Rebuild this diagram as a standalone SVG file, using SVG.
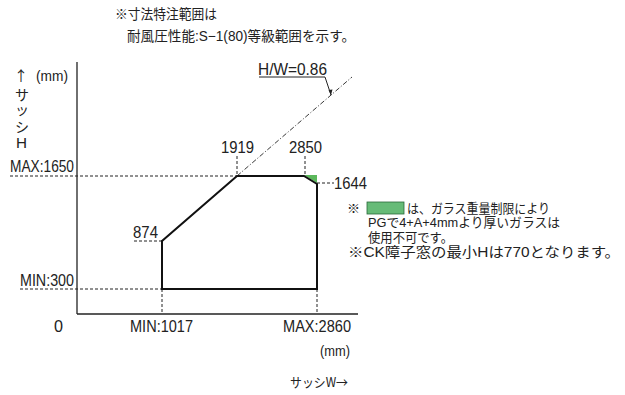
<svg xmlns="http://www.w3.org/2000/svg" width="625" height="395" viewBox="0 0 625 395">
<style>
text{font-family:"Liberation Sans","Noto Sans CJK JP",sans-serif;fill:#222;font-size:17px}
.j{font-size:14px}
.s{font-size:13px}
.ar{font-family:"Noto Sans CJK JP",sans-serif}
.ax{stroke:#222;stroke-width:1.3;fill:none}
.dash{stroke:#222;stroke-width:1;stroke-dasharray:3,2;fill:none}
.dd{stroke:#222;stroke-width:0.9;stroke-dasharray:5,2,1,2;fill:none}
.poly{stroke:#111;stroke-width:2;fill:none;stroke-linejoin:miter}
.thin{stroke:#222;stroke-width:1;fill:none}
</style>
<rect width="625" height="395" fill="#fff"/>
<g id="notes-top">
<text x="115" y="19" class="j" textLength="102" lengthAdjust="spacingAndGlyphs">※寸法特注範囲は</text>
<text x="127" y="41" class="j" textLength="228" lengthAdjust="spacingAndGlyphs">耐風圧性能:S−1(80)等級範囲を示す。</text>
</g>
<g id="axes">
<line class="ax" x1="77" y1="62" x2="77" y2="314"/>
<line class="ax" x1="77" y1="314" x2="358" y2="314"/>
<text x="14" y="81" class="j ar">↑</text>
<text x="36" y="81" class="j" textLength="32" lengthAdjust="spacingAndGlyphs">(mm)</text>
<text x="15" y="100" class="j">サ</text>
<text x="15" y="115" class="j">ッ</text>
<text x="15" y="132" class="j">シ</text>
<text x="16" y="148" class="j" textLength="11" lengthAdjust="spacingAndGlyphs">H</text>
<text x="54" y="332" textLength="9" lengthAdjust="spacingAndGlyphs">0</text>
<text x="130" y="332" textLength="63" lengthAdjust="spacingAndGlyphs">MIN:1017</text>
<text x="283" y="332" textLength="68" lengthAdjust="spacingAndGlyphs">MAX:2860</text>
<text x="320" y="356" class="j" textLength="30" lengthAdjust="spacingAndGlyphs">(mm)</text>
<text x="290" y="387" class="s ar" textLength="58" lengthAdjust="spacingAndGlyphs">サッシW→</text>
</g>
<g id="connectors">
<line class="dash" x1="10" y1="176" x2="237" y2="176"/>
<line class="dash" x1="20" y1="289" x2="162" y2="289"/>
<line class="dash" x1="134" y1="241" x2="162" y2="241"/>
<line class="dash" x1="237" y1="156" x2="237" y2="176"/>
<line class="dash" x1="305" y1="156" x2="305" y2="175"/>
<line class="dash" x1="317" y1="183" x2="334" y2="183"/>
<line class="dash" x1="162" y1="289" x2="162" y2="314"/>
<line class="dash" x1="317" y1="289" x2="317" y2="314"/>
<line class="dd" x1="237" y1="176" x2="352" y2="77"/>
<polyline class="thin" points="259,77 325,77 331,95"/>
<path d="M328.5,90 L331,95 L332.5,89.5 Z" fill="#222"/>
</g>
<g id="region">
<polygon points="304,175 317,175 317,183" fill="#5cb85c"/>
<polygon class="poly" points="162,289 162,241 237,176 304,176 317,184 317,289"/>
</g>
<g id="labels">
<text x="10" y="172" textLength="64" lengthAdjust="spacingAndGlyphs">MAX:1650</text>
<text x="20" y="286" textLength="54" lengthAdjust="spacingAndGlyphs">MIN:300</text>
<text x="133" y="238" textLength="25" lengthAdjust="spacingAndGlyphs">874</text>
<text x="221" y="152.5" textLength="33" lengthAdjust="spacingAndGlyphs">1919</text>
<text x="289" y="152.5" textLength="33" lengthAdjust="spacingAndGlyphs">2850</text>
<text x="334" y="189" textLength="33" lengthAdjust="spacingAndGlyphs">1644</text>
<text x="258" y="75" textLength="69" lengthAdjust="spacingAndGlyphs">H/W=0.86</text>
</g>
<g id="legend">
<text x="347" y="213" class="s">※</text>
<rect x="367" y="202" width="37" height="12" fill="#66bb77" stroke="#2a6a3a" stroke-width="0.8"/>
<text x="407" y="213" class="s" textLength="143" lengthAdjust="spacingAndGlyphs">は、ガラス重量制限により</text>
<text x="368" y="227" class="s" textLength="192" lengthAdjust="spacingAndGlyphs">PGで4+A+4mmより厚いガラスは</text>
<text x="368" y="242" class="s" textLength="85" lengthAdjust="spacingAndGlyphs">使用不可です。</text>
<text x="348" y="257" class="j" textLength="272" lengthAdjust="spacingAndGlyphs">※CK障子窓の最小Hは770となります。</text>
</g>
</svg>
